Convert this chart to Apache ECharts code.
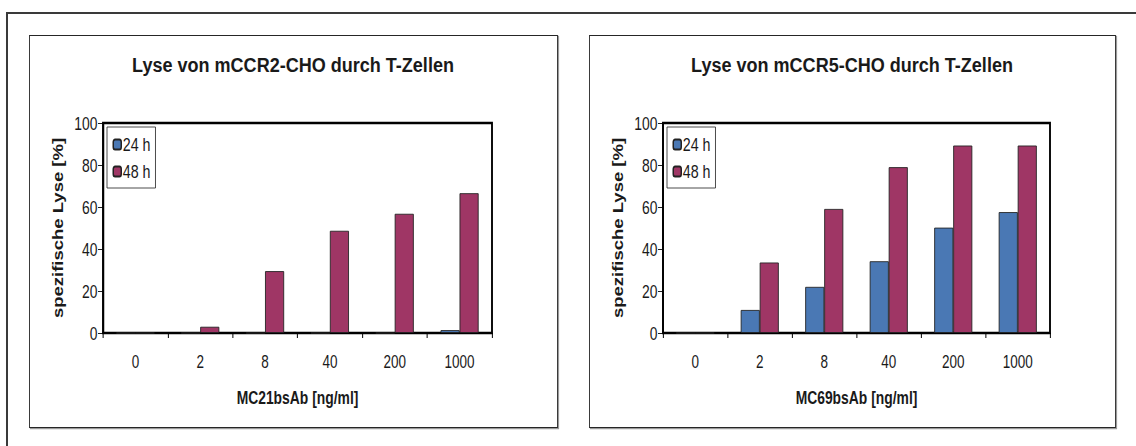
<!DOCTYPE html>
<html>
<head>
<meta charset="utf-8">
<script src="https://cdn.jsdelivr.net/npm/echarts@6/dist/echarts.min.js"></script>
<style>
  html, body { margin: 0; padding: 0; background: #fff; overflow: hidden; }
  #wrap { width: 1136px; height: 446px; overflow: hidden; }
  /* the figure is laid out wider and squeezed horizontally, which gives the narrow lettering */
  #chart { height: 446px; transform-origin: 0 0; }
</style>
</head>
<body>
<div id="wrap"><div id="chart"></div></div>
<script>
// Concentrations of the bispecific antibody (ng/ml)
const categories = ['0', '2', '8', '40', '200', '1000'];

// Specific lysis [%] of mCCR2-CHO cells, antibody MC21bsAb
const ccr2_24h = [0, 0, 0, 0, 0, 1.4];
const ccr2_48h = [0, 3, 29.5, 48.7, 56.8, 66.6];

// Specific lysis [%] of mCCR5-CHO cells, antibody MC69bsAb
const ccr5_24h = [0, 11, 22, 34.2, 50.2, 57.6];
const ccr5_48h = [0, 33.6, 59.1, 79, 89.3, 89.3];

const seriesNames = ['24 h', '48 h'];
const titles = ['Lyse von mCCR2-CHO durch T-Zellen', 'Lyse von mCCR5-CHO durch T-Zellen'];
const xNames = ['MC21bsAb [ng/ml]', 'MC69bsAb [ng/ml]'];
const yName = 'spezifische Lyse [%]';

const FONT = "'Liberation Sans', Arial, Helvetica, sans-serif";
const TEXT = '#1a1a1a';
const COLORS = ['#4a78b4', '#9f3665'];

// horizontal squeeze factor; all x measures below are given in on-screen pixels
const SX = 0.75;
const X = v => v / SX;

const el = document.getElementById('chart');
el.style.width = X(1136) + 'px';
el.style.transform = 'scaleX(' + SX + ')';

// panel frames: [x, y, w, h]
const panels = [[29, 35, 528, 392], [589, 35, 526, 392]];
// plot areas
const grids = [
  { left: 103, top: 123, width: 389, height: 210 },
  { left: 663, top: 123, width: 387, height: 210 }
];

const chart = echarts.init(el, null, { renderer: 'svg' });

function panelGraphics(p) {
  const [x, y, w, h] = p;
  return [
    { type: 'rect', shape: { x: X(x + 1.5), y: y + 1.5, width: X(w), height: h },
      style: { fill: 'none', stroke: '#9a9a9a', lineWidth: 1.6 }, z: -2 },
    { type: 'rect', shape: { x: X(x + 0.5), y: y + 0.5, width: X(w), height: h },
      style: { fill: '#fff', stroke: '#262626', lineWidth: 1.2 }, z: -1 }
  ];
}

function titleGraphic(t, i) {
  return {
    type: 'text',
    x: X(panels[i][0] + panels[i][2] / 2),
    y: 55,
    scaleX: 0.88 / SX,
    style: { text: t, fontFamily: FONT, fontSize: 20.5, fontWeight: 'bold', fill: TEXT,
      align: 'center', verticalAlign: 'top' }
  };
}

const option = {
  backgroundColor: '#fff',
  animation: false,
  textStyle: { fontFamily: FONT, color: TEXT },
  graphic: [
    // outer figure frame
    { type: 'line', shape: { x1: X(6), y1: 13, x2: X(1136), y2: 13 },
      style: { stroke: '#3a3a3a', lineWidth: 2 } },
    { type: 'line', shape: { x1: X(7), y1: 12, x2: X(7), y2: 446 },
      style: { stroke: '#3a3a3a', lineWidth: X(2) } },
    ...panelGraphics(panels[0]),
    ...panelGraphics(panels[1]),
    ...titles.map(titleGraphic)
  ],
  legend: [0, 1].map(i => ({
    orient: 'vertical',
    left: X(grids[i].left + 4),
    top: grids[i].top + 4,
    data: seriesNames,
    borderColor: '#333',
    borderWidth: 1,
    padding: [8, X(5), 7, X(5.5)],
    itemGap: 8,
    itemWidth: X(8),
    itemHeight: 10,
    textStyle: { fontFamily: FONT, fontSize: 19, color: TEXT, padding: [0, 0, 0, -3] }
  })),
  grid: grids.map(g => ({
    show: true, borderColor: '#000', borderWidth: 2.5, backgroundColor: 'transparent',
    left: X(g.left), top: g.top, width: X(g.width), height: g.height
  })),
  xAxis: [0, 1].map(i => ({
    type: 'category',
    gridIndex: i,
    data: categories,
    boundaryGap: true,
    name: xNames[i],
    nameLocation: 'middle',
    nameGap: 55,
    nameTextStyle: { fontFamily: FONT, fontSize: 18.5, fontWeight: 'bold', color: TEXT },
    axisLine: { lineStyle: { color: '#000', width: 1.5 } },
    axisTick: { show: true, length: 5, lineStyle: { color: '#000', width: X(1) } },
    axisLabel: { margin: 20, fontFamily: FONT, fontSize: 18, color: TEXT },
    splitLine: { show: false }
  })),
  yAxis: [0, 1].map(i => ({
    type: 'value',
    gridIndex: i,
    min: 0,
    max: 100,
    interval: 20,
    name: yName,
    nameLocation: 'middle',
    nameGap: X(38),
    nameTextStyle: { fontFamily: FONT, fontSize: 18.5, fontWeight: 'bold', color: TEXT },
    axisLine: { show: true, lineStyle: { color: '#000', width: X(1.5) } },
    axisTick: { show: true, length: X(5), lineStyle: { color: '#000', width: 1 } },
    axisLabel: { margin: X(5.5), fontFamily: FONT, fontSize: 18.5, color: TEXT },
    splitLine: { show: false }
  })),
  series: [
    [ccr2_24h, ccr2_48h],
    [ccr5_24h, ccr5_48h]
  ].flatMap((pair, i) => pair.map((vals, j) => ({
    type: 'bar',
    name: seriesNames[j],
    xAxisIndex: i,
    yAxisIndex: i,
    data: vals,
    barWidth: X(19),
    barGap: '0%',
    itemStyle: { color: COLORS[j], borderColor: '#222', borderWidth: 1 }
  })))
};

chart.setOption(option);
</script>
</body>
</html>
